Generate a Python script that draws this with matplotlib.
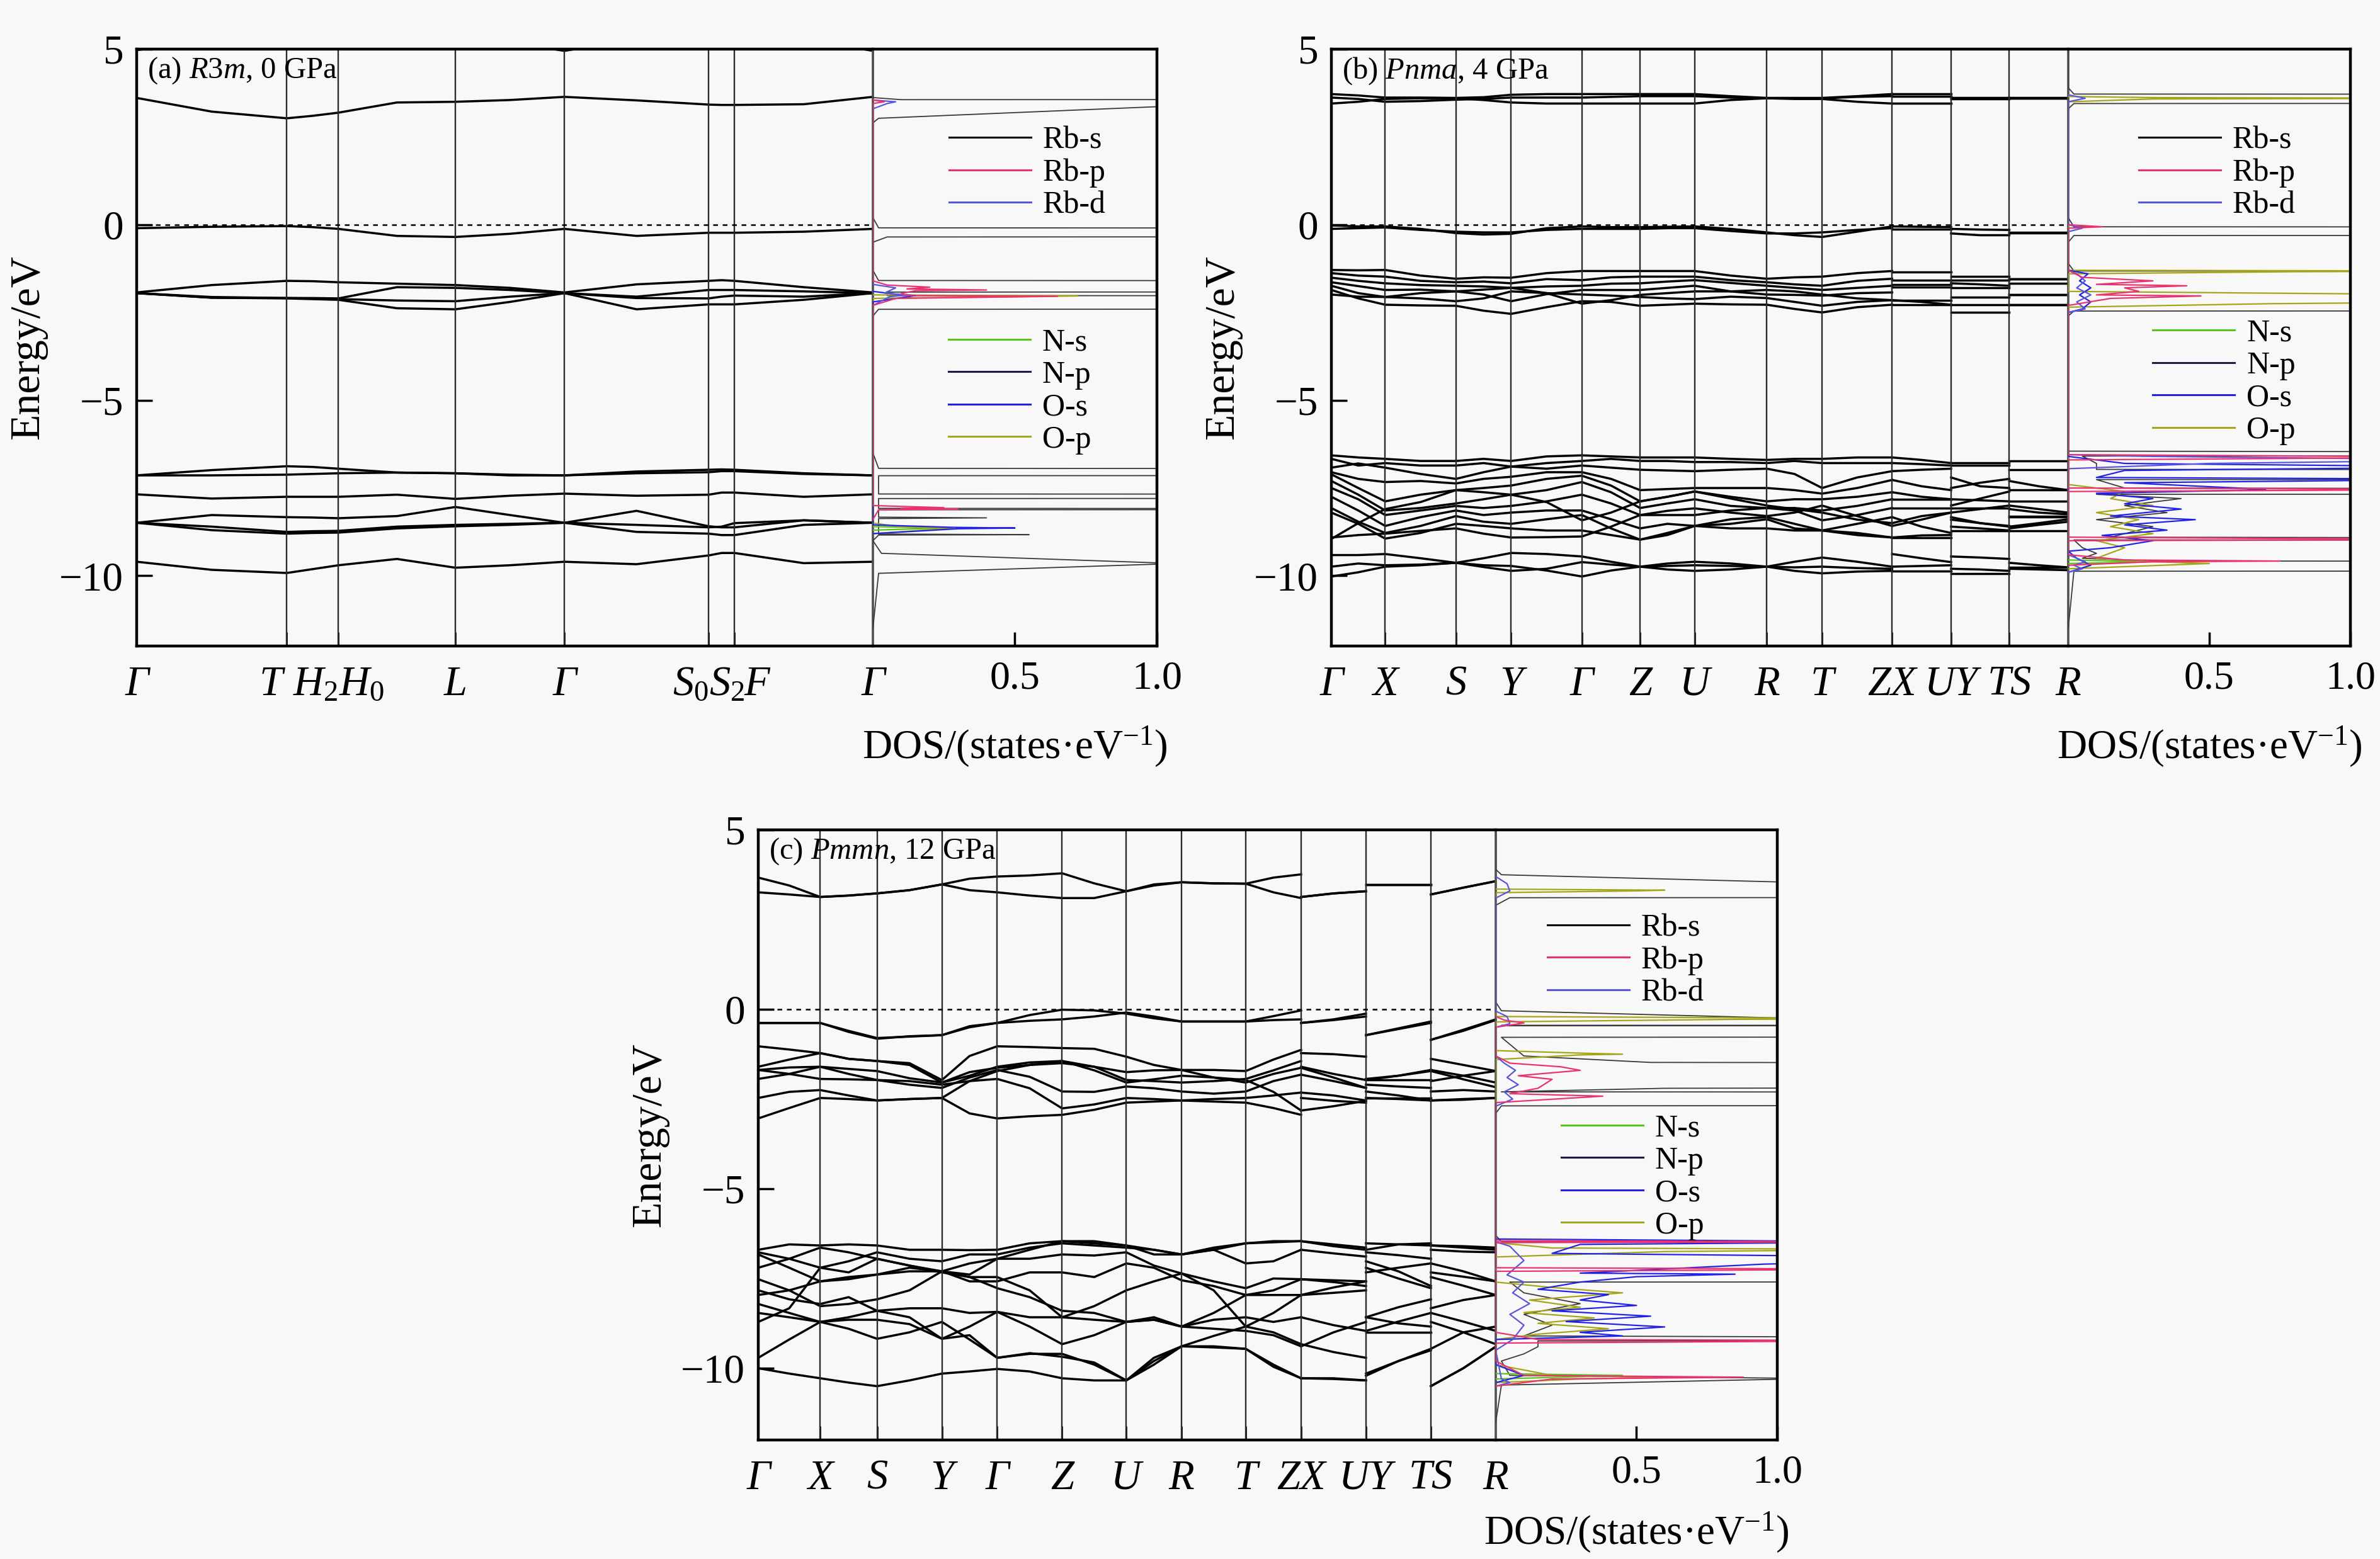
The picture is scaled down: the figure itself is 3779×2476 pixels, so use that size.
import matplotlib
matplotlib.use("Agg")
import matplotlib.pyplot as plt
from matplotlib.lines import Line2D

plt.rcParams['font.family'] = ['Liberation Serif', 'DejaVu Serif']
plt.rcParams['mathtext.fontset'] = 'custom'
plt.rcParams['mathtext.rm'] = 'Liberation Serif'
plt.rcParams['mathtext.it'] = 'Liberation Serif:italic'
plt.rcParams['figure.facecolor'] = '#f8f8f8'
plt.rcParams['axes.facecolor'] = '#f8f8f8'

# ---------------- data ----------------
ORBITALS = ['Rb-s', 'Rb-p', 'Rb-d', 'N-s', 'N-p', 'O-s', 'O-p']
ORB_COLORS = ['#000000', '#e8336e', '#5a55dd', '#5cc41c', '#1c1c44', '#2222e6', '#a5a51a']

# k-path positions (fraction of path) and labels
A_KPOS = [0, 0.204, 0.274, 0.433, 0.581, 0.777, 0.812, 1.0]
A_KLAB = ['Γ', 'T', '$H_2H_0$', 'L', 'Γ', '$S_0S_2$', 'F', 'Γ']
A_SEGS = [(0, 7)]

B_KPOS = [0, 0.073, 0.169, 0.244, 0.340, 0.419, 0.493, 0.591, 0.666, 0.761, 0.841, 0.920, 1.0]
C_KPOS = [0, 0.084, 0.161, 0.249, 0.324, 0.412, 0.499, 0.574, 0.661, 0.736, 0.824, 0.912, 1.0]
ORTHO_KLAB = ['Γ', 'X', 'S', 'Y', 'Γ', 'Z', 'U', 'R', 'T', 'ZX', 'UY', 'TS', 'R']
ORTHO_SEGS = [(0, 9), (9, 10), (10, 11), (11, 12)]

# band energies (eV) at k-points and half-way points along each segment
A_BANDS = [
    [4.97, 5.3, 5.6, 5.6, 5.6, 5.5, 5.4, 5.2, 4.95, 5.3, 5.6, 5.6, 5.6, 5.3, 4.95],
    [3.61, 3.22, 3.03, 3.10, 3.19, 3.48, 3.50, 3.55, 3.64, 3.54, 3.42, 3.41, 3.41, 3.43, 3.64],
    [-0.10, -0.06, -0.04, -0.07, -0.12, -0.32, -0.35, -0.26, -0.12, -0.32, -0.23, -0.23, -0.23, -0.20, -0.12],
    [-1.93, -1.72, -1.60, -1.61, -1.64, -1.68, -1.72, -1.80, -1.93, -1.70, -1.60, -1.58, -1.60, -1.78, -1.93],
    [-1.95, -2.06, -2.09, -2.09, -2.10, -1.78, -1.80, -1.86, -1.95, -2.05, -1.86, -1.86, -1.86, -1.90, -1.95],
    [-1.95, -2.08, -2.09, -2.10, -2.12, -2.16, -2.18, -2.05, -1.95, -2.09, -2.10, -2.05, -2.02, -2.05, -1.95],
    [-1.95, -2.08, -2.10, -2.12, -2.14, -2.38, -2.41, -2.20, -1.95, -2.41, -2.27, -2.27, -2.27, -2.14, -1.95],
    [-7.14, -6.99, -6.88, -6.90, -6.95, -7.06, -7.08, -7.12, -7.14, -7.03, -6.98, -6.97, -6.98, -7.08, -7.14],
    [-7.14, -7.14, -7.12, -7.10, -7.08, -7.06, -7.08, -7.14, -7.14, -7.08, -7.05, -7.02, -7.02, -7.10, -7.14],
    [-7.68, -7.80, -7.75, -7.75, -7.75, -7.69, -7.81, -7.72, -7.66, -7.72, -7.69, -7.63, -7.63, -7.75, -7.68],
    [-8.49, -8.27, -8.33, -8.34, -8.36, -8.30, -8.04, -8.27, -8.49, -8.15, -8.59, -8.62, -8.62, -8.42, -8.49],
    [-8.49, -8.70, -8.80, -8.78, -8.77, -8.65, -8.59, -8.55, -8.49, -8.75, -8.80, -8.84, -8.84, -8.55, -8.49],
    [-8.49, -8.60, -8.75, -8.73, -8.72, -8.60, -8.55, -8.52, -8.49, -8.55, -8.62, -8.60, -8.50, -8.42, -8.49],
    [-9.60, -9.83, -9.92, -9.81, -9.70, -9.52, -9.77, -9.70, -9.60, -9.67, -9.42, -9.35, -9.35, -9.64, -9.60],
]

B_BANDS = [
    [3.72, 3.68, 3.62, 3.62, 3.61, 3.63, 3.70, 3.72, 3.72, 3.72, 3.72, 3.72, 3.72, 3.66, 3.61, 3.61, 3.61, 3.66, 3.72, 3.72, 3.72, 3.72, 3.61, 3.61, 3.61, 3.61, 3.61, 3.61],
    [3.45, 3.50, 3.58, 3.60, 3.60, 3.55, 3.48, 3.45, 3.45, 3.45, 3.45, 3.45, 3.45, 3.55, 3.60, 3.58, 3.58, 3.50, 3.45, 3.45, 3.45, 3.45, 3.58, 3.58, 3.58, 3.60, 3.60, 3.60],
    [3.62, 3.58, 3.50, 3.52, 3.56, 3.58, 3.62, 3.62, 3.62, 3.64, 3.66, 3.66, 3.66, 3.62, 3.60, 3.60, 3.60, 3.64, 3.66, 3.66, 3.66, 3.66, 3.62, 3.62, 3.62, 3.62, 3.62, 3.62],
    [-0.02, -0.05, -0.05, -0.12, -0.24, -0.28, -0.26, -0.10, -0.05, -0.07, -0.07, -0.06, -0.05, -0.12, -0.22, -0.30, -0.35, -0.20, -0.05, -0.05, -0.06, -0.07, -0.12, -0.14, -0.15, -0.22, -0.22, -0.22],
    [-0.12, -0.10, -0.08, -0.15, -0.20, -0.22, -0.22, -0.15, -0.12, -0.12, -0.12, -0.10, -0.10, -0.18, -0.25, -0.25, -0.22, -0.15, -0.10, -0.12, -0.12, -0.12, -0.25, -0.30, -0.30, -0.24, -0.24, -0.24],
    [-1.29, -1.30, -1.29, -1.45, -1.54, -1.50, -1.51, -1.38, -1.32, -1.32, -1.32, -1.32, -1.32, -1.45, -1.54, -1.50, -1.48, -1.38, -1.32, -1.35, -1.35, -1.35, -1.48, -1.48, -1.48, -1.54, -1.54, -1.54],
    [-1.38, -1.45, -1.48, -1.60, -1.64, -1.62, -1.67, -1.55, -1.58, -1.50, -1.48, -1.48, -1.48, -1.58, -1.64, -1.70, -1.74, -1.60, -1.54, -1.58, -1.58, -1.58, -1.58, -1.58, -1.58, -1.67, -1.67, -1.67],
    [-1.51, -1.60, -1.67, -1.72, -1.74, -1.76, -1.80, -1.76, -1.74, -1.68, -1.67, -1.62, -1.58, -1.66, -1.74, -1.80, -1.86, -1.80, -1.74, -1.70, -1.70, -1.70, -1.67, -1.70, -1.74, -1.99, -1.99, -1.99],
    [-1.64, -1.75, -1.86, -1.85, -1.90, -1.99, -2.18, -1.98, -1.86, -1.86, -1.86, -1.80, -1.74, -1.90, -1.99, -2.00, -2.02, -1.95, -1.93, -1.77, -1.77, -1.77, -1.80, -1.80, -1.80, -2.28, -2.28, -2.28],
    [-1.74, -1.95, -2.06, -2.10, -2.18, -2.10, -1.90, -1.95, -1.99, -2.02, -2.06, -2.10, -2.12, -2.05, -2.09, -2.20, -2.31, -2.20, -2.15, -2.15, -2.15, -2.15, -2.06, -2.06, -2.06, -2.28, -2.28, -2.28],
    [-1.86, -2.10, -2.28, -2.30, -2.31, -2.45, -2.54, -2.35, -2.18, -2.20, -2.31, -2.28, -2.25, -2.27, -2.28, -2.40, -2.50, -2.35, -2.28, -2.28, -2.28, -2.28, -2.50, -2.50, -2.50, -1.99, -1.99, -1.99],
    [-1.99, -2.05, -2.06, -1.95, -1.90, -1.85, -1.80, -1.95, -2.25, -2.15, -2.00, -1.95, -1.90, -1.90, -1.86, -1.90, -1.99, -2.10, -2.15, -2.15, -2.20, -2.28, -2.28, -2.28, -2.28, -1.54, -1.54, -1.54],
    [-6.57, -6.63, -6.67, -6.73, -6.73, -6.67, -6.73, -6.60, -6.57, -6.60, -6.63, -6.63, -6.63, -6.67, -6.70, -6.67, -6.67, -6.63, -6.63, -6.63, -6.70, -6.79, -6.79, -6.79, -6.79, -6.73, -6.73, -6.73],
    [-6.67, -6.86, -6.79, -6.86, -6.86, -6.79, -6.89, -6.79, -6.73, -6.67, -6.73, -6.73, -6.76, -6.76, -6.79, -6.73, -6.79, -6.79, -6.79, -6.79, -6.82, -6.86, -6.86, -6.86, -6.86, -6.98, -6.98, -6.98],
    [-6.92, -6.80, -6.92, -7.10, -7.24, -7.05, -6.89, -6.95, -6.86, -6.92, -6.98, -7.00, -7.02, -6.98, -6.95, -7.10, -7.50, -7.20, -7.02, -7.02, -6.98, -6.95, -7.20, -7.45, -7.50, -7.30, -7.45, -7.56],
    [-7.05, -7.24, -7.33, -7.30, -7.37, -7.24, -7.18, -7.05, -7.05, -7.24, -7.56, -7.53, -7.50, -7.50, -7.50, -7.56, -7.66, -7.50, -7.27, -7.27, -7.45, -7.56, -7.50, -7.35, -7.24, -7.56, -7.56, -7.56],
    [-7.11, -7.50, -7.88, -7.69, -7.56, -7.50, -7.43, -7.24, -7.15, -7.43, -7.88, -7.75, -7.60, -7.75, -7.88, -7.82, -7.82, -7.75, -7.62, -7.62, -7.75, -7.82, -7.82, -7.85, -7.88, -7.88, -7.88, -7.88],
    [-7.30, -7.69, -8.14, -8.07, -7.94, -7.82, -7.69, -7.56, -7.33, -7.62, -8.07, -7.94, -7.82, -8.01, -8.07, -8.07, -8.14, -8.01, -7.82, -7.82, -7.82, -7.82, -8.07, -8.07, -8.07, -8.30, -8.30, -8.30],
    [-7.50, -7.82, -8.27, -8.14, -8.01, -8.07, -8.01, -7.88, -7.69, -7.94, -8.27, -8.27, -8.27, -8.14, -8.07, -8.14, -8.42, -8.27, -8.07, -8.07, -8.07, -8.07, -8.33, -8.50, -8.60, -8.33, -8.33, -8.33],
    [-7.75, -8.14, -8.58, -8.33, -8.14, -8.27, -8.20, -8.14, -8.14, -8.39, -8.65, -8.52, -8.58, -8.39, -8.33, -8.52, -8.71, -8.52, -8.33, -8.33, -8.60, -8.78, -8.60, -8.65, -8.71, -8.60, -8.50, -8.39],
    [-8.07, -8.46, -8.78, -8.58, -8.30, -8.46, -8.52, -8.39, -8.27, -8.65, -8.97, -8.78, -8.58, -8.52, -8.39, -8.65, -8.71, -8.78, -8.91, -8.91, -8.85, -8.84, -8.40, -8.50, -8.58, -8.65, -8.55, -8.46],
    [-8.20, -8.52, -8.94, -8.78, -8.52, -8.58, -8.65, -8.71, -8.71, -8.84, -8.97, -8.84, -8.58, -8.65, -8.65, -8.71, -8.71, -8.84, -8.91, -8.91, -8.91, -8.91, -8.71, -8.71, -8.71, -8.71, -8.71, -8.71],
    [-8.91, -8.84, -8.80, -8.72, -8.65, -8.80, -8.91, -8.90, -8.88, -8.60, -8.27, -8.15, -8.08, -8.20, -8.30, -8.20, -8.00, -8.30, -8.58, -8.58, -8.40, -8.20, -8.20, -8.10, -8.00, -8.10, -8.20, -8.25],
    [-8.95, -8.50, -8.10, -7.90, -7.56, -7.62, -7.69, -7.90, -8.42, -8.20, -7.88, -7.75, -7.60, -7.80, -8.00, -8.10, -8.20, -8.40, -8.50, -8.50, -8.30, -8.20, -8.00, -7.80, -7.60, -8.00, -8.10, -8.20],
    [-9.41, -9.41, -9.38, -9.50, -9.63, -9.50, -9.35, -9.38, -9.45, -9.60, -9.74, -9.65, -9.60, -9.65, -9.74, -9.60, -9.48, -9.60, -9.74, -9.38, -9.50, -9.61, -9.45, -9.48, -9.52, -9.63, -9.70, -9.76],
    [-9.74, -9.65, -9.70, -9.68, -9.63, -9.75, -9.86, -9.80, -9.61, -9.68, -9.74, -9.82, -9.86, -9.82, -9.74, -9.86, -9.93, -9.88, -9.86, -9.86, -9.86, -9.86, -9.93, -9.93, -9.93, -9.76, -9.76, -9.76],
    [-10.02, -9.90, -9.74, -9.70, -9.63, -9.70, -9.72, -9.85, -10.02, -9.85, -9.74, -9.72, -9.70, -9.72, -9.74, -9.76, -9.74, -9.78, -9.80, -9.74, -9.72, -9.70, -9.80, -9.82, -9.86, -9.80, -9.82, -9.84],
]

C_BANDS = [
    [3.67, 3.45, 3.13, 3.17, 3.23, 3.32, 3.48, 3.64, 3.70, 3.73, 3.79, 3.51, 3.29, 3.48, 3.54, 3.51, 3.50, 3.67, 3.76, 3.13, 3.23, 3.29, 3.48, 3.48, 3.48, 3.20, 3.39, 3.57],
    [3.26, 3.20, 3.13, 3.17, 3.23, 3.32, 3.48, 3.32, 3.26, 3.17, 3.10, 3.10, 3.29, 3.45, 3.54, 3.51, 3.50, 3.26, 3.10, 3.13, 3.23, 3.29, 3.48, 3.48, 3.48, 3.20, 3.39, 3.57],
    [-0.38, -0.38, -0.38, -0.63, -0.82, -0.75, -0.72, -0.47, -0.38, -0.16, -0.01, -0.03, -0.12, -0.25, -0.34, -0.34, -0.34, -0.19, -0.03, -0.38, -0.28, -0.12, -0.72, -0.53, -0.34, -0.85, -0.57, -0.28],
    [-0.38, -0.38, -0.38, -0.60, -0.80, -0.76, -0.72, -0.50, -0.38, -0.32, -0.28, -0.20, -0.09, -0.20, -0.34, -0.34, -0.34, -0.30, -0.28, -0.38, -0.30, -0.20, -0.72, -0.55, -0.38, -0.85, -0.60, -0.30],
    [-1.03, -1.12, -1.22, -1.38, -1.44, -1.50, -1.97, -1.30, -1.03, -1.05, -1.08, -1.10, -1.32, -1.55, -1.69, -1.69, -1.72, -1.40, -1.13, -1.22, -1.25, -1.32, -1.94, -1.85, -1.69, -1.38, -1.55, -1.72],
    [-1.60, -1.40, -1.22, -1.38, -1.44, -1.55, -2.04, -1.85, -1.60, -1.48, -1.44, -1.60, -1.97, -2.00, -2.04, -2.00, -1.94, -1.70, -1.44, -1.60, -1.80, -1.97, -2.10, -2.15, -2.19, -1.69, -1.85, -2.04],
    [-1.69, -1.62, -1.60, -1.66, -1.72, -1.92, -2.04, -1.75, -1.63, -1.55, -1.50, -1.60, -1.75, -1.70, -1.69, -1.90, -2.04, -1.80, -1.63, -1.63, -1.90, -2.19, -1.97, -1.85, -1.72, -1.72, -1.95, -2.17],
    [-1.94, -1.80, -1.60, -1.80, -1.97, -2.10, -2.19, -1.90, -1.69, -1.88, -2.29, -2.30, -2.15, -2.20, -2.29, -2.35, -2.29, -2.00, -1.82, -1.82, -2.00, -2.19, -2.29, -2.40, -2.54, -2.29, -2.25, -2.29],
    [-2.47, -2.30, -2.25, -2.40, -2.54, -2.50, -2.47, -2.00, -1.94, -2.20, -2.76, -2.65, -2.47, -2.50, -2.54, -2.50, -2.47, -2.40, -2.32, -2.32, -2.40, -2.54, -2.47, -2.47, -2.47, -2.54, -2.52, -2.47],
    [-3.04, -2.75, -2.47, -2.50, -2.54, -2.50, -2.47, -2.90, -3.04, -2.98, -2.94, -2.80, -2.60, -2.57, -2.54, -2.57, -2.60, -2.75, -2.94, -2.47, -2.55, -2.60, -2.47, -2.50, -2.54, -2.54, -2.50, -2.47],
    [-1.69, -1.80, -1.94, -1.95, -1.97, -2.00, -2.10, -2.00, -1.72, -1.55, -1.44, -1.70, -2.04, -1.95, -1.85, -1.90, -1.97, -2.30, -2.82, -2.82, -2.70, -2.55, -1.97, -1.97, -1.97, -2.00, -1.85, -1.72],
    [-6.70, -6.55, -6.58, -6.55, -6.58, -6.70, -6.70, -6.71, -6.70, -6.52, -6.46, -6.52, -6.58, -6.70, -6.83, -6.64, -6.52, -6.49, -6.46, -6.46, -6.60, -6.70, -6.70, -6.55, -6.52, -6.58, -6.64, -6.70],
    [-6.77, -6.95, -7.20, -7.02, -6.77, -6.95, -7.02, -6.83, -6.83, -6.64, -6.52, -6.58, -6.64, -6.70, -6.83, -6.70, -7.08, -7.02, -6.70, -6.70, -6.80, -6.89, -6.77, -6.85, -6.95, -6.70, -6.75, -6.77],
    [-7.20, -6.95, -6.64, -6.77, -6.95, -7.14, -7.30, -7.39, -6.95, -6.95, -6.83, -6.86, -6.77, -7.14, -7.36, -7.58, -7.77, -7.50, -7.52, -7.52, -7.60, -7.71, -7.02, -7.30, -7.71, -7.33, -7.45, -7.58],
    [-7.52, -7.83, -8.27, -8.21, -8.08, -7.83, -7.30, -7.58, -7.58, -7.33, -7.33, -7.46, -7.08, -7.20, -7.55, -7.71, -7.96, -7.96, -7.96, -7.96, -7.75, -7.58, -7.33, -7.20, -7.08, -7.46, -7.70, -7.96],
    [-7.83, -8.08, -8.21, -8.02, -8.40, -8.58, -9.18, -8.84, -8.43, -8.84, -9.33, -9.08, -8.71, -8.65, -8.84, -8.65, -8.58, -8.71, -8.58, -8.58, -8.80, -8.96, -8.58, -8.75, -8.84, -8.71, -9.00, -9.33],
    [-7.96, -7.83, -7.58, -7.46, -7.39, -7.30, -7.30, -7.46, -7.77, -8.02, -8.40, -8.46, -8.71, -8.65, -8.84, -8.46, -7.96, -7.83, -7.52, -7.52, -7.55, -7.58, -8.58, -8.30, -8.08, -8.33, -8.10, -7.96],
    [-8.21, -8.46, -8.71, -8.65, -8.65, -8.77, -9.18, -9.08, -9.71, -9.58, -9.68, -9.84, -10.34, -9.71, -9.39, -9.42, -9.46, -9.96, -10.28, -10.28, -10.30, -10.34, -10.21, -9.80, -9.46, -10.50, -10.00, -9.40],
    [-8.46, -8.58, -8.71, -8.58, -8.40, -8.33, -8.33, -8.46, -8.43, -8.58, -8.58, -8.65, -8.71, -8.58, -8.84, -8.90, -8.96, -9.08, -9.39, -9.39, -9.00, -8.71, -8.96, -8.70, -8.46, -8.46, -8.70, -8.96],
    [-8.71, -8.33, -7.20, -7.33, -6.95, -7.14, -7.33, -7.46, -7.46, -7.83, -8.58, -8.27, -7.83, -7.58, -7.36, -7.83, -8.84, -8.46, -7.96, -7.96, -7.90, -7.83, -7.20, -7.50, -7.77, -7.08, -7.30, -7.58],
    [-10.00, -10.15, -10.28, -10.40, -10.50, -10.34, -10.15, -10.09, -10.02, -10.09, -10.28, -10.34, -10.34, -9.90, -9.39, -9.39, -9.46, -9.90, -10.28, -10.28, -10.28, -10.34, -10.15, -9.80, -9.50, -10.50, -10.00, -9.40],
    [-9.71, -9.20, -8.71, -8.90, -9.18, -9.00, -8.71, -9.20, -9.71, -9.60, -9.60, -9.90, -10.34, -9.80, -9.39, -9.10, -8.84, -9.00, -9.33, -9.33, -9.55, -9.71, -9.00, -9.00, -9.00, -9.46, -9.00, -8.84],
    [-6.83, -7.20, -7.58, -7.52, -7.39, -7.20, -7.30, -7.08, -6.95, -6.70, -6.46, -6.46, -6.58, -6.83, -6.83, -6.70, -6.52, -6.46, -6.46, -6.46, -6.55, -6.64, -6.52, -6.55, -6.58, -6.58, -6.60, -6.64],
]

# projected DOS, (energy eV, states/eV) pairs; values above 1 run off the frame
A_DOS_NP = [(-11.5, 0), (-9.93, 0.02), (-9.655, 1.05), (-9.645, 1.05), (-9.36, 0.03), (-9.0, 0.0),
            (-8.84, 0.02), (-8.83, 0.55), (-8.81, 0.02), (-8.37, 0.02), (-8.35, 0.40), (-8.33, 0.02),
            (-8.12, 0.02), (-8.11, 4.0), (-8.09, 4.0), (-8.08, 0.02), (-7.80, 0.02), (-7.79, 4.0),
            (-7.68, 4.0), (-7.67, 0.02), (-7.15, 0.02), (-7.14, 4.0), (-6.95, 4.0), (-6.94, 0.02),
            (-6.5, 0.0), (-2.6, 0.0), (-2.41, 0.02), (-2.40, 4.0), (-2.03, 4.0), (-2.02, 0.05),
            (-1.92, 0.05), (-1.91, 4.0), (-1.60, 4.0), (-1.59, 0.02), (-1.3, 0.0), (-0.5, 0.0),
            (-0.35, 0.05), (-0.34, 4.0), (-0.10, 4.0), (-0.09, 0.02), (0.2, 0.0), (2.9, 0.0),
            (3.03, 0.02), (3.36, 1.0), (3.42, 1.2), (3.50, 4.0), (3.57, 4.0), (3.56, 0.1), (3.62, 0.0),
            (5.5, 0.0)]
A_DOS_RBP = [(-8.4, 0), (-8.12, 0.02), (-8.10, 0.30), (-8.08, 0.10), (-8.06, 0.25), (-8.0, 0.0),
             (-2.3, 0.0), (-2.10, 0.08), (-2.04, 0.65), (-2.02, 0.12), (-1.96, 0.10), (-1.88, 0.15),
             (-1.86, 0.40), (-1.83, 0.12), (-1.78, 0.20), (-1.72, 0.05), (-1.6, 0.0), (3.45, 0.0),
             (3.5, 0.04), (3.55, 0.0)]
A_DOS_RBD = [(-2.3, 0), (-2.05, 0.06), (-2.0, 0.12), (-1.95, 0.04), (-1.8, 0.08), (-1.7, 0),
             (3.3, 0), (3.45, 0.05), (3.5, 0.08), (3.55, 0.0)]
A_DOS_OS = [(-8.8, 0), (-8.66, 0.30), (-8.64, 0.50), (-8.62, 0.28), (-8.55, 0.0), (-2.2, 0.0),
            (-2.02, 0.15), (-1.98, 0.08), (-1.9, 0.0)]
A_DOS_OP = [(-8.8, 0), (-8.68, 0.22), (-8.65, 0.28), (-8.6, 0.10), (-8.5, 0), (-2.1, 0),
            (-2.03, 0.72), (-2.0, 0.0)]
A_DOS_NS = [(-8.7, 0), (-8.64, 0.25), (-8.6, 0)]

B_DOS_NP = [(-11.5, 0), (-9.87, 0.02), (-9.86, 4.0), (-9.59, 4.0), (-9.58, 0.3), (-9.50, 0.05),
            (-9.36, 0.1), (-9.2, 0.05), (-8.98, 0.02), (-8.97, 4.0), (-8.95, 4.0), (-8.9, 0.15),
            (-8.6, 0.3), (-8.4, 0.1), (-8.2, 0.35), (-8.0, 0.2), (-7.8, 0.4), (-7.68, 0.1),
            (-7.67, 4.0), (-7.54, 4.0), (-7.50, 0.2), (-7.26, 0.1), (-7.25, 4.0), (-6.98, 4.0),
            (-6.97, 0.1), (-6.8, 0.1), (-6.59, 0.05), (-6.58, 4.0), (-6.5, 4.0), (-6.45, 0.0),
            (-2.6, 0.0), (-2.46, 0.02), (-2.45, 4.0), (-1.33, 4.0), (-1.32, 0.02), (-1.1, 0.0),
            (-0.5, 0.0), (-0.31, 0.02), (-0.30, 4.0), (-0.07, 4.0), (-0.06, 0.02), (0.2, 0.0),
            (3.3, 0.0), (3.45, 0.02), (3.46, 4.0), (3.71, 4.0), (3.72, 0.02), (3.9, 0.0), (5.5, 0.0)]
B_DOS_RBP = [(-9.7, 0), (-9.6, 0.3), (-9.58, 0.75), (-9.55, 0.2), (-9.4, 0), (-9.0, 0), (-8.97, 1.5),
             (-8.9, 0.0), (-7.6, 0.0), (-7.54, 1.5), (-7.50, 0.0), (-6.7, 0.0), (-6.62, 1.5),
             (-6.55, 0.0), (-2.3, 0), (-2.1, 0.15), (-2.03, 0.47), (-2.0, 0.10), (-1.9, 0.25),
             (-1.80, 0.2), (-1.74, 0.42), (-1.70, 0.1), (-1.6, 0.3), (-1.5, 0.05), (-1.3, 0),
             (-0.1, 0), (-0.06, 0.12), (0.0, 0)]
B_DOS_RBD = [(-9.9, 0), (-9.8, 0.05), (-9.7, 0.02), (-9.6, 0.06), (-9.4, 0), (-6.95, 0), (-6.8, 0.5),
             (-6.7, 1.5), (-6.6, 0.3), (-6.55, 0.0), (-2.5, 0), (-2.4, 0.06), (-2.2, 0.03),
             (-2.0, 0.08), (-1.8, 0.03), (-1.6, 0.06), (-1.4, 0.03), (-1.3, 0), (-0.2, 0),
             (-0.1, 0.05), (0, 0), (3.5, 0), (3.6, 0.06), (3.7, 0)]
B_DOS_OS = [(-9.9, 0), (-9.7, 0.08), (-9.5, 0.03), (-9.3, 0.0), (-9.2, 0.15), (-9.0, 0.3),
            (-8.85, 0.12), (-8.7, 0.35), (-8.55, 0.2), (-8.4, 0.45), (-8.3, 0.15), (-8.1, 0.4),
            (-7.95, 0.2), (-7.8, 0.3), (-7.65, 0.1), (-7.55, 0.7), (-7.5, 0.6), (-7.35, 0.2),
            (-7.25, 1.5), (-7.2, 0.1), (-7.0, 0.2), (-6.9, 1.5), (-6.8, 0.2), (-6.6, 0),
            (-2.5, 0), (-2.4, 0.05), (-2.2, 0.08), (-2.0, 0.04), (-1.8, 0.08), (-1.6, 0.04),
            (-1.4, 0.07), (-1.3, 0)]
B_DOS_OP = [(-9.8, 0), (-9.65, 0.5), (-9.6, 0.3), (-9.5, 0.1), (-9.2, 0.2), (-9.0, 0.1), (-8.8, 0.3),
            (-8.6, 0.15), (-8.4, 0.25), (-8.2, 0.1), (-8.0, 0.3), (-7.8, 0.15), (-7.6, 0.2),
            (-7.4, 0.0), (-2.35, 0), (-2.25, 0.72), (-2.2, 1.5), (-2.0, 1.5), (-1.95, 0.70),
            (-1.9, 0.0), (-1.4, 0), (-1.34, 0.8), (-1.32, 1.5), (-1.3, 0), (3.5, 0), (3.58, 0.3),
            (3.6, 1.5), (3.62, 0.3), (3.65, 0)]
B_DOS_NS = [(-9.65, 0), (-9.6, 0.3), (-9.55, 0)]

C_DOS_NP = [(-11.5, 0), (-10.47, 0.02), (-10.30, 1.05), (-10.28, 1.05), (-10.2, 0.05), (-9.8, 0.02),
            (-9.6, 0.1), (-9.4, 0.15), (-9.24, 0.15), (-9.23, 4.0), (-9.20, 4.0), (-9.1, 0.1),
            (-8.8, 0.2), (-8.5, 0.1), (-8.2, 0.3), (-7.9, 0.1), (-7.6, 0.05), (-7.59, 4.0),
            (-6.48, 4.0), (-6.47, 0.02), (-6.3, 0.0), (-2.9, 0.0), (-2.69, 0.02), (-2.67, 4.0),
            (-2.31, 4.0), (-2.30, 0.02), (-2.20, 0.6), (-2.16, 4.0), (-1.50, 4.0), (-1.48, 0.55),
            (-1.30, 0.1), (-0.78, 0.02), (-0.76, 4.0), (-0.46, 4.0), (-0.45, 0.02), (-0.44, 4.0),
            (-0.26, 4.0), (-0.25, 1.05), (-0.04, 0.02), (0.2, 0.0), (2.9, 0.0), (3.11, 0.05),
            (3.12, 4.0), (3.50, 4.0), (3.54, 1.05), (3.75, 0.02), (3.9, 0.0), (5.5, 0.0)]
C_DOS_RBP = [(-10.5, 0), (-10.3, 0.2), (-10.25, 0.88), (-10.2, 0.1), (-9.8, 0), (-9.3, 0),
             (-9.23, 1.5), (-9.2, 0.15), (-9.0, 0), (-7.3, 0), (-7.24, 1.5), (-7.2, 0.0), (-6.5, 0),
             (-6.48, 1.5), (-6.45, 0), (-2.6, 0), (-2.42, 0.38), (-2.35, 0.05), (-2.2, 0.15),
             (-1.95, 0.20), (-1.85, 0.08), (-1.7, 0.3), (-1.6, 0.23), (-1.5, 0.05), (-1.3, 0),
             (-0.5, 0), (-0.38, 0.1), (-0.3, 0.03), (-0.2, 0)]
C_DOS_RBD = [(-10.5, 0), (-10.4, 0.05), (-10.3, 0.02), (-9.5, 0), (-9.2, 0.06), (-8.8, 0.1),
             (-8.5, 0.05), (-8.2, 0.12), (-7.9, 0.06), (-7.6, 0.1), (-7.4, 0.04), (-7.0, 0.1),
             (-6.6, 0.05), (-6.48, 0), (-2.7, 0), (-2.5, 0.06), (-2.3, 0.03), (-2.1, 0.08),
             (-1.9, 0.04), (-1.7, 0.07), (-1.5, 0.03), (-1.3, 0), (-0.5, 0), (-0.4, 0.05),
             (-0.2, 0.04), (-0.05, 0), (3.1, 0), (3.3, 0.05), (3.5, 0.04), (3.7, 0)]
C_DOS_OS = [(-10.4, 0), (-10.2, 0.1), (-9.9, 0.0), (-9.2, 0), (-9.1, 0.45), (-9.0, 0.3), (-8.85, 0.6),
            (-8.7, 0.25), (-8.55, 0.55), (-8.4, 0.2), (-8.25, 0.5), (-8.1, 0.3), (-7.95, 0.4),
            (-7.8, 0.15), (-7.6, 0.3), (-7.45, 0.5), (-7.38, 0.85), (-7.35, 0.3), (-7.1, 0.95),
            (-7.0, 1.5), (-6.9, 1.5), (-6.8, 0.2), (-6.55, 0.3), (-6.48, 1.5), (-6.4, 0)]
C_DOS_OP = [(-10.4, 0), (-10.3, 0.3), (-10.25, 0.6), (-10.2, 0.2), (-9.9, 0), (-9.2, 0), (-9.05, 0.15),
            (-8.9, 0.4), (-8.75, 0.15), (-8.6, 0.35), (-8.45, 0.1), (-8.3, 0.3), (-8.1, 0.12),
            (-7.9, 0.45), (-7.75, 0.2), (-7.6, 0.0), (-6.9, 0), (-6.75, 0.6), (-6.69, 1.5),
            (-6.65, 0.2), (-6.5, 0), (-1.4, 0), (-1.27, 0.3), (-1.25, 0.45), (-1.22, 0.3),
            (-1.15, 0), (-0.35, 0), (-0.28, 0.85), (-0.26, 1.5), (-0.2, 0), (3.25, 0), (3.3, 0.5),
            (3.32, 0.6), (3.35, 0)]
C_DOS_NS = [(-10.3, 0), (-10.2, 0.45), (-10.15, 0)]

# ---------------- drawing ----------------
W, H = 3780, 2476
fig = plt.figure(figsize=(W / 100, H / 100), dpi=100)


def px_axes(x0, x1, y0, y1):
    return fig.add_axes([x0 / W, 1 - y1 / H, (x1 - x0) / W, (y1 - y0) / H])


def seg_nodes(kpos, i0, i1):
    xs = []
    for j in range(i0, i1):
        xs += [kpos[j], (kpos[j] + kpos[j + 1]) / 2]
    xs.append(kpos[i1])
    return xs


def panel(box, kpos, klab, segs, bands, dos, title, leg1, leg2, xlab_off, lab_shift=None):
    bx0, bx1, dx1, y0, y1 = box
    axb = px_axes(bx0, bx1, y0, y1)
    axd = px_axes(bx1, dx1, y0, y1)

    for ax in (axb, axd):
        ax.set_ylim(-12, 5)
        ax.set_xlim(0, 1)
        for s in ax.spines.values():
            s.set_linewidth(3.2)
    axb.spines['right'].set_visible(False)
    axd.spines['left'].set_visible(False)

    # bands
    for vals in bands:
        i = 0
        for (i0, i1) in segs:
            xs = seg_nodes(kpos, i0, i1)
            axb.plot(xs, vals[i:i + len(xs)], color='k', lw=2.5, solid_joinstyle='round')
            i += len(xs)
    for k in kpos[1:-1]:
        axb.axvline(k, color='#2a2a2a', lw=1.7)
    axb.axhline(0, color='k', lw=1.8, ls=(0, (3, 3)))
    axd.axvline(0, color='#505050', lw=2.6, clip_on=False)

    axb.set_xticks(kpos)
    axb.set_xticklabels([''] * len(kpos))
    axb.set_yticks([-10, -5, 0, 5])
    axb.tick_params(axis='x', direction='in', length=16, width=2, top=False)
    axb.tick_params(axis='y', direction='in', length=18, width=2.5, right=False, labelsize=47, pad=15)
    shifts = lab_shift or {}
    for j, (k, lab) in enumerate(zip(kpos, klab)):
        dx = shifts.get(j, 0) * 0.72
        axb.annotate(lab, xy=(k, 0), xycoords=('data', 'axes fraction'), xytext=(dx, -56),
                     textcoords='offset points', ha='center', va='baseline',
                     fontsize=48, fontstyle='italic')

    # DOS
    for name, pts in dos:
        c = ORB_COLORS[ORBITALS.index(name)]
        e = [p[0] for p in pts]
        v = [p[1] for p in pts]
        if name == 'N-p':
            axd.plot(v, e, color='#3a3a3a', lw=1.3)
        else:
            axd.plot(v, e, color=c, lw=1.6)
    axd.set_xticks([0.5, 1.0])
    axd.set_xticklabels(['0.5', '1.0'])
    axd.tick_params(axis='x', direction='in', length=16, width=2.5, top=False, labelsize=46, pad=17)
    axd.tick_params(axis='y', left=False, labelleft=False)

    hs = [Line2D([], [], color=c, lw=2.2) for c in ORB_COLORS]
    kw = dict(loc='upper left', frameon=False, fontsize=36, handlelength=2.6, handletextpad=0.38,
              labelspacing=0.1, borderpad=0, borderaxespad=0)
    l1 = axd.legend(hs[:3], ORBITALS[:3], bbox_to_anchor=leg1, **kw)
    axd.add_artist(l1)
    axd.legend(hs[3:], ORBITALS[3:], bbox_to_anchor=leg2, **kw)

    axb.annotate(title, xy=(0, 1), xycoords='axes fraction', xytext=(12, -7),
                 textcoords='offset points', ha='left', va='top', fontsize=35)
    fig.text((bx0 - 172) / W, 1 - (y0 + y1) / 2 / H, 'Energy/eV', rotation=90,
             ha='center', va='center', fontsize=49)
    fig.text((bx1 + dx1) / 2 / W, 1 - (y1 + xlab_off) / H, r'DOS/(states·eV$^{-1}$)',
             ha='center', va='center', fontsize=47)


panel((217, 1386, 1837, 78, 1026), A_KPOS, A_KLAB, A_SEGS, A_BANDS,
      [('N-p', A_DOS_NP), ('N-s', A_DOS_NS), ('O-p', A_DOS_OP), ('O-s', A_DOS_OS),
       ('Rb-d', A_DOS_RBD), ('Rb-p', A_DOS_RBP)],
      r'(a) $\mathit{R3m}$, 0 GPa', (0.268, 0.871), (0.266, 0.533), 160, {1: -25, 6: 36})
panel((2114, 3284, 3732, 78, 1026), B_KPOS, ORTHO_KLAB, ORTHO_SEGS, B_BANDS,
      [('N-p', B_DOS_NP), ('N-s', B_DOS_NS), ('O-p', B_DOS_OP), ('O-s', B_DOS_OS),
       ('Rb-d', B_DOS_RBD), ('Rb-p', B_DOS_RBP)],
      r'(b) $\mathit{Pnma}$, 4 GPa', (0.25, 0.871), (0.30, 0.548), 160)
panel((1204, 2375, 2822, 1318, 2287), C_KPOS, ORTHO_KLAB, ORTHO_SEGS, C_BANDS,
      [('N-p', C_DOS_NP), ('N-s', C_DOS_NS), ('O-p', C_DOS_OP), ('O-s', C_DOS_OS),
       ('Rb-d', C_DOS_RBD), ('Rb-p', C_DOS_RBP)],
      r'(c) $\mathit{Pmmn}$, 12 GPa', (0.183, 0.863), (0.232, 0.535), 147)

fig.savefig('out.png', dpi=100)
